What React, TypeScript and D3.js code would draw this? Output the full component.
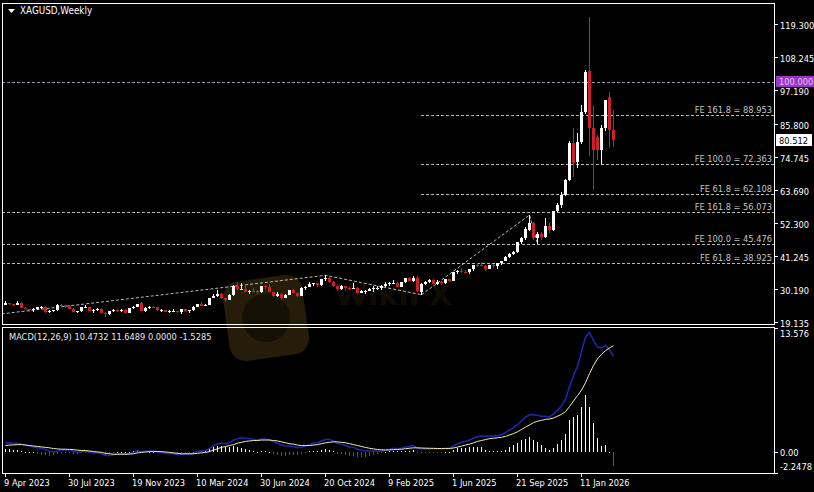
import * as d3 from "d3";

const FONT = "Tahoma, 'DejaVu Sans Condensed', 'DejaVu Sans', sans-serif";

// weekly XAGUSD candles, one entry per week starting 9 Apr 2023
const open = [
  25.0, 25.4, 25.1, 25.0, 25.6, 23.9, 23.6, 23.3, 23.6, 24.2,
  24.2, 22.7, 22.8, 23.1, 25.0, 24.9, 24.4, 23.6, 22.7, 22.75,
  24.2, 24.25, 23.0, 23.05, 23.6, 22.3, 21.7, 22.8, 23.3, 22.9,
  23.2, 22.3, 23.8, 24.3, 25.5, 23.0, 24.0, 24.2, 24.1, 23.1,
  23.2, 22.6, 22.8, 22.9, 22.4, 23.4, 22.9, 23.1, 24.1, 25.2,
  24.7, 24.9, 27.4, 28.0, 28.7, 27.2, 26.6, 28.3, 31.4, 30.3,
  30.4, 29.2, 29.6, 29.5, 29.1, 31.2, 30.8, 29.2, 28.0, 28.6,
  27.4, 28.4, 29.9, 28.9, 28.0, 30.7, 30.9, 31.8, 32.2, 31.7,
  33.7, 33.8, 32.5, 31.3, 30.3, 31.3, 30.6, 30.4, 30.6, 29.0,
  29.5, 29.6, 30.4, 30.5, 30.6, 31.3, 31.8, 32.2, 32.4, 31.1,
  32.5, 33.8, 33.1, 34.1, 29.3, 32.1, 32.5, 33.2, 32.0, 32.7,
  32.3, 33.5, 33.0, 36.0, 36.3, 36.0, 35.9, 37.0, 38.4, 38.2,
  38.1, 37.0, 38.3, 38.0, 38.9, 39.7, 41.0, 42.1, 42.6, 46.0,
  47.5, 50.2, 52.3, 47.4, 48.9, 47.6, 51.6, 50.1, 56.4, 58.4,
  61.9, 66.9, 79.3, 73.0, 79.7, 89.8, 103.6, 84.4, 81.4, 77.0,
  84.4, 95.0, 83.7,
];
const high = [
  26.1, 25.6, 25.3, 26.1, 26.0, 24.2, 23.7, 23.8, 24.2, 24.6,
  24.5, 23.2, 23.3, 25.3, 25.3, 25.0, 24.9, 23.8, 23.0, 24.3,
  25.0, 24.3, 23.4, 23.8, 23.8, 22.4, 22.8, 23.5, 23.4, 23.5,
  23.4, 23.9, 24.4, 25.3, 25.9, 24.2, 24.6, 24.6, 24.2, 23.4,
  23.3, 23.2, 23.5, 22.9, 23.5, 23.4, 23.2, 24.4, 25.3, 25.8,
  25.1, 27.4, 28.6, 29.8, 28.9, 27.3, 28.5, 31.5, 32.5, 32.3,
  31.6, 29.8, 30.6, 29.8, 31.2, 31.5, 31.8, 29.4, 29.2, 28.9,
  28.5, 30.0, 30.2, 29.0, 30.9, 31.2, 32.7, 32.3, 32.3, 33.7,
  34.87, 34.5, 32.9, 31.5, 31.5, 31.4, 31.0, 32.3, 30.9, 30.1,
  29.8, 30.7, 31.3, 31.2, 31.5, 32.6, 32.6, 33.4, 32.6, 32.7,
  34.1, 34.2, 34.6, 34.6, 32.4, 33.0, 33.7, 33.5, 33.2, 33.1,
  33.6, 33.7, 36.1, 36.5, 37.3, 36.8, 37.0, 38.5, 39.1, 39.5,
  38.4, 38.4, 38.7, 39.0, 39.8, 41.5, 42.5, 43.0, 46.0, 47.9,
  51.2, 55.17, 52.8, 49.5, 49.6, 54.2, 52.6, 56.5, 59.3, 62.9,
  67.1, 80.0, 84.4, 82.7, 92.0, 104.0, 121.8, 92.1, 82.0, 85.5,
  94.0, 96.6, 90.5,
];
const low = [
  24.9, 24.9, 24.6, 24.9, 23.9, 23.6, 22.7, 22.7, 23.3, 23.6,
  22.2, 22.1, 22.5, 22.9, 24.5, 24.0, 23.5, 22.6, 22.2, 22.7,
  24.0, 22.9, 22.3, 22.9, 22.1, 20.7, 21.4, 22.6, 22.6, 22.7,
  22.3, 22.2, 23.6, 24.2, 22.9, 22.5, 23.6, 24.0, 22.9, 22.5,
  22.5, 22.3, 22.6, 22.1, 21.9, 22.7, 22.3, 23.0, 24.1, 24.6,
  24.4, 24.8, 27.3, 27.7, 26.8, 26.0, 26.5, 28.0, 30.0, 30.0,
  29.2, 28.6, 29.1, 28.6, 28.9, 30.4, 29.2, 27.6, 27.5, 26.5,
  27.1, 28.3, 28.9, 27.7, 27.8, 30.1, 30.8, 31.2, 30.8, 31.2,
  33.0, 32.2, 30.8, 29.7, 29.9, 29.7, 29.8, 30.2, 28.7, 28.9,
  28.5, 29.5, 29.4, 29.9, 30.0, 31.1, 31.4, 32.0, 30.8, 31.1,
  32.4, 32.8, 32.7, 29.3, 28.33, 31.6, 32.3, 31.9, 31.7, 31.6,
  32.1, 32.6, 32.8, 35.3, 35.5, 35.5, 35.4, 36.2, 37.5, 38.0,
  36.2, 36.9, 37.3, 36.9, 38.3, 39.6, 40.6, 41.6, 42.4, 45.5,
  46.9, 49.9, 46.9, 45.52, 46.7, 47.4, 49.2, 49.8, 56.0, 57.4,
  61.5, 66.5, 68.0, 71.0, 79.0, 89.0, 75.0, 63.5, 73.6, 72.0,
  83.5, 77.7, 78.0,
];
const close = [
  25.4, 25.1, 25.0, 25.6, 23.9, 23.6, 23.3, 23.6, 24.2, 24.2,
  22.7, 22.8, 23.1, 25.0, 24.9, 24.4, 23.6, 22.7, 22.75, 24.2,
  24.25, 23.0, 23.05, 23.6, 22.3, 21.7, 22.8, 23.3, 22.9, 23.2,
  22.3, 23.8, 24.3, 25.2, 23.0, 24.0, 24.2, 24.1, 23.1, 23.2,
  22.6, 22.8, 22.9, 22.4, 23.4, 22.9, 23.1, 24.1, 25.2, 24.7,
  24.9, 27.4, 28.0, 28.7, 27.2, 26.6, 28.3, 31.4, 30.3, 30.4,
  29.2, 29.6, 29.5, 29.1, 31.2, 30.8, 29.2, 28.0, 28.6, 27.4,
  28.4, 29.9, 28.9, 28.0, 30.7, 30.9, 31.8, 32.2, 31.7, 33.7,
  33.8, 32.5, 31.3, 30.3, 31.3, 30.6, 30.4, 30.6, 29.0, 29.5,
  29.6, 30.4, 30.5, 30.6, 31.3, 31.8, 32.2, 32.4, 31.1, 32.5,
  33.8, 33.1, 34.1, 29.6, 32.1, 32.5, 33.2, 32.0, 32.7, 32.3,
  33.5, 33.0, 36.0, 36.3, 36.0, 35.9, 37.0, 38.4, 38.2, 38.1,
  37.0, 38.3, 38.0, 38.9, 39.7, 41.0, 42.2, 42.6, 46.0, 47.5,
  50.4, 52.3, 47.4, 48.9, 47.6, 51.5, 50.1, 56.4, 58.4, 61.9,
  66.9, 79.3, 72.6, 79.7, 89.8, 103.3, 84.4, 77.0, 77.0, 84.4,
  93.8, 83.7, 80.512,
];

// MACD(12,26,9)
const macdMain = [
  1.05, 1.05, 1.0, 1.0, 0.9, 0.8, 0.7, 0.6, 0.5, 0.45,
  0.3, 0.15, 0.05, 0.15, 0.25, 0.3, 0.25, 0.12, 0.02, 0.08,
  0.15, 0.05, -0.05, -0.05, -0.15, -0.35, -0.35, -0.25, -0.2, -0.15,
  -0.2, -0.12, 0.0, 0.2, 0.1, 0.12, 0.15, 0.15, 0.05, 0.0,
  -0.1, -0.15, -0.15, -0.25, -0.2, -0.2, -0.2, -0.1, 0.1, 0.15,
  0.2, 0.45, 0.7, 0.95, 1.0, 0.95, 1.05, 1.35, 1.5, 1.6,
  1.55, 1.5, 1.45, 1.35, 1.45, 1.45, 1.35, 1.15, 1.0, 0.8,
  0.7, 0.7, 0.65, 0.5, 0.6, 0.7, 0.85, 1.0, 1.05, 1.25,
  1.4, 1.4, 1.25, 1.0, 0.9, 0.75, 0.6, 0.55, 0.35, 0.25,
  0.15, 0.15, 0.12, 0.12, 0.15, 0.25, 0.35, 0.45, 0.4, 0.45,
  0.6, 0.65, 0.75, 0.45, 0.4, 0.38, 0.4, 0.4, 0.4, 0.4,
  0.45, 0.45, 0.7, 0.95, 1.1, 1.2, 1.35, 1.55, 1.7, 1.8,
  1.75, 1.8, 1.8, 1.85, 1.95, 2.15, 2.45, 2.7, 3.05, 3.45,
  3.85, 4.1, 4.1, 4.05, 3.95, 3.95, 3.85, 4.2, 4.6, 5.1,
  5.8, 7.2, 8.4, 9.4, 11.0, 12.6, 13.1, 12.2, 11.5, 11.4,
  11.7, 11.2, 10.4732,
];
const macdSignal = [
  0.75, 0.8, 0.82, 0.85, 0.85, 0.8, 0.75, 0.7, 0.65, 0.6,
  0.55, 0.5, 0.42, 0.38, 0.35, 0.35, 0.33, 0.3, 0.25, 0.2,
  0.2, 0.15, 0.1, 0.05, 0.0, -0.1, -0.15, -0.2, -0.2, -0.2,
  -0.2, -0.18, -0.15, -0.05, 0.0, 0.05, 0.08, 0.1, 0.1, 0.08,
  0.05, 0.0, -0.05, -0.1, -0.15, -0.15, -0.15, -0.15, -0.1, -0.05,
  0.0, 0.1, 0.25, 0.4, 0.55, 0.65, 0.75, 0.85, 1.0, 1.1,
  1.2, 1.25, 1.3, 1.3, 1.35, 1.35, 1.35, 1.3, 1.25, 1.15,
  1.05, 0.95, 0.9, 0.8, 0.75, 0.75, 0.75, 0.8, 0.85, 0.95,
  1.05, 1.1, 1.15, 1.15, 1.1, 1.05, 0.95, 0.85, 0.75, 0.65,
  0.55, 0.45, 0.38, 0.32, 0.28, 0.26, 0.27, 0.3, 0.32, 0.35,
  0.4, 0.45, 0.5, 0.5, 0.48, 0.46, 0.45, 0.44, 0.43, 0.42,
  0.42, 0.43, 0.48, 0.58, 0.68, 0.8, 0.9, 1.05, 1.2, 1.3,
  1.4, 1.5, 1.55, 1.6, 1.65, 1.75, 1.9, 2.05, 2.25, 2.5,
  2.75, 3.0, 3.25, 3.4, 3.5, 3.6, 3.65, 3.75, 3.95, 4.15,
  4.45, 5.0, 5.6, 6.2, 6.8, 7.6, 8.6, 9.5, 10.2, 10.7,
  11.1, 11.4, 11.6489,
];
const macdHist = [
  0.4, 0.35, 0.3, 0.25, 0.1, 0.03, 0.02, 0.02, -0.2, -0.25,
  -0.3, -0.35, -0.3, -0.2, -0.1, -0.1, -0.08, -0.15, -0.2, -0.1,
  -0.05, -0.1, -0.15, -0.1, -0.15, -0.25, -0.2, -0.05, 0.0, 0.02,
  0.0, 0.05, 0.15, 0.3, 0.15, 0.12, 0.08, 0.06, -0.05, -0.1,
  -0.15, -0.15, -0.1, -0.15, -0.05, -0.05, -0.05, 0.05, 0.2, 0.2,
  0.2, 0.4, 0.6, 0.75, 0.7, 0.6, 0.6, 0.7, 0.6, 0.5,
  0.35, 0.25, 0.15, 0.05, 0.1, 0.1, 0.0, -0.15, -0.25, -0.35,
  -0.35, -0.25, -0.25, -0.3, -0.15, -0.05, 0.1, 0.2, 0.2, 0.3,
  0.35, 0.3, 0.1, -0.15, -0.2, -0.3, -0.35, -0.35, -0.45, -0.45,
  -0.45, -0.35, -0.25, -0.2, -0.1, 0.0, 0.1, 0.15, 0.1, 0.1,
  0.2, 0.2, 0.25, -0.1, -0.1, -0.1, -0.05, -0.05, -0.05, -0.05,
  0.03, 0.03, 0.25, 0.45, 0.5, 0.5, 0.55, 0.6, 0.6, 0.6,
  0.3, 0.15, 0.15, 0.15, 0.2, 0.3, 0.6, 0.85, 1.0, 1.3,
  1.5, 1.7, 1.4, 1.1, 0.8, 0.5, 0.3, 0.5, 0.9, 1.3,
  2.0, 3.5, 3.9, 4.1, 5.0, 6.3, 5.0, 3.2, 1.6, 0.7,
  0.8, 0.05, -1.5285,
];

const priceTicks = [119.3, 108.245, 97.19, 85.8, 74.745, 63.69, 52.3, 41.245, 30.19, 19.135];
const macdTicks = [13.576, 0, -2.2478];
const macdTickLabels = ["13.576", "0.00", "-2.2478"];
const dateTicks = [0, 16, 32, 48, 64, 80, 96, 112, 128, 144];
const dateLabels = [
  "9 Apr 2023", "30 Jul 2023", "19 Nov 2023", "10 Mar 2024", "30 Jun 2024",
  "20 Oct 2024", "9 Feb 2025", "1 Jun 2025", "21 Sep 2025", "11 Jan 2026",
];

// Fibonacci expansions: anchors [bar index, price] and resulting levels
const feRatios = ["61.8", "100.0", "161.8"];
const fe1Levels = [38.925, 45.476, 56.073];
const fe1Points: [number, number][] = [[-27, 17.72], [80, 34.87], [104, 28.33]];
const fe2Levels = [62.108, 72.363, 88.953];
const fe2Points: [number, number][] = [[104, 28.33], [131, 55.17], [133, 45.52]];
const roundLevel = 100;
const lastPrice = 80.512;

export default function App() {
  const left = 2, right = 774, top = 3, mainBottom = 324, macdTop = 327, macdBottom = 473;

  const x = d3.scaleLinear().domain([0, 1]).range([5, 9]);
  const y = d3.scaleLinear().domain([19.135, 119.3]).range([322.1, 24.3]);
  const ym = d3.scaleLinear().domain([-2.2478, 13.576]).range([macdBottom, 328]);

  const red = "#d01e2a";
  const dash = "#b8b8b8";
  const fs = 9.2;

  const lineMain = d3.line<number>().x((_, i) => x(i) + 0.5).y((d) => ym(d));

  const fePath = (pts: [number, number][]) =>
    d3.line<[number, number]>().x((d) => x(d[0]) + 0.5).y((d) => y(d[1]))(pts) ?? "";

  return (
    <svg width={814} height={492} style={{ position: "absolute", left: 0, top: 0, display: "block", background: "#000" }}
      fontFamily={FONT}>
      <rect x={0} y={0} width={814} height={492} fill="#000" />
      <defs>
        <clipPath id="mainClip">
          <rect x={left + 1} y={top + 1} width={right - left - 1} height={mainBottom - top - 1} />
        </clipPath>
        <clipPath id="macdClip">
          <rect x={left + 1} y={macdTop + 1} width={right - left - 1} height={macdBottom - macdTop - 1} />
        </clipPath>
      </defs>

      {/* watermark */}
      <g opacity={0.17} fill="#d9aa3a">
        <rect x={226} y={278} width={80} height={80} rx={16} transform="rotate(-8 266 318)" />
      </g>
      <circle cx={266} cy={318} r={24} fill="#000" opacity={0.4} />
      <text x={335} y={305} fontSize={30} fontWeight="bold" fontFamily="'DejaVu Sans', sans-serif"
        fill="#d9aa3a" opacity={0.07}>WikiFX</text>

      <g clipPath="url(#mainClip)" shapeRendering="crispEdges">
        {/* horizontal level lines */}
        <line x1={left} x2={right} y1={Math.round(y(roundLevel)) + 0.5} y2={Math.round(y(roundLevel)) + 0.5}
          stroke="#9a92a4" strokeDasharray="3,2" />
        {fe1Levels.map((v) => (
          <line key={"a" + v} x1={left} x2={right} y1={Math.round(y(v)) + 0.5} y2={Math.round(y(v)) + 0.5}
            stroke={dash} strokeDasharray="3,2" />
        ))}
        {fe2Levels.map((v) => (
          <line key={"b" + v} x1={x(fe2Points[0][0])} x2={right} y1={Math.round(y(v)) + 0.5} y2={Math.round(y(v)) + 0.5}
            stroke={dash} strokeDasharray="3,2" />
        ))}
      </g>
      <g clipPath="url(#mainClip)">
        <path d={fePath(fe1Points)} fill="none" stroke={dash} strokeDasharray="3,2" />
        <path d={fePath(fe2Points)} fill="none" stroke={dash} strokeDasharray="3,2" />
      </g>

      {/* level labels */}
      <g fontSize={fs} fill="#c4c4c4" textAnchor="end">
        {fe1Levels.map((v, k) => (
          <text key={"ta" + k} x={right - 2} y={Math.round(y(v)) - 2}>{`FE ${feRatios[k]} = ${v.toFixed(3)}`}</text>
        ))}
        {fe2Levels.map((v, k) => (
          <text key={"tb" + k} x={right - 2} y={Math.round(y(v)) - 2}>{`FE ${feRatios[k]} = ${v.toFixed(3)}`}</text>
        ))}
      </g>

      {/* candles */}
      <g clipPath="url(#mainClip)" shapeRendering="crispEdges">
        {close.map((c, i) => {
          const o = open[i];
          const col = c >= o ? "#ffffff" : red;
          const cx = x(i);
          const yTop = Math.round(y(Math.max(o, c)));
          const yBot = Math.round(y(Math.min(o, c)));
          const yh = Math.round(y(high[i]));
          const yl = Math.round(y(low[i]));
          return (
            <g key={i} fill={col}>
              <rect x={cx} y={yh} width={1} height={Math.max(1, yl - yh)} />
              <rect x={cx - 1} y={yTop} width={3} height={Math.max(1, yBot - yTop)} />
            </g>
          );
        })}
      </g>

      {/* MACD */}
      <g clipPath="url(#macdClip)">
        <g shapeRendering="crispEdges">
          {macdHist.map((v, i) => {
            const y0 = Math.round(ym(0));
            const y1 = Math.round(ym(v));
            return (
              <rect key={i} x={x(i)} y={Math.min(y0, y1)} width={1} height={Math.max(1, Math.abs(y1 - y0))}
                fill={v >= 0 ? "#ffffff" : red} />
            );
          })}
        </g>
        <path d={lineMain(macdMain) ?? ""} fill="none" stroke="#2424b4" strokeWidth={1.5} />
        <path d={lineMain(macdSignal) ?? ""} fill="none" stroke="#f2eea8" strokeWidth={1} />
      </g>

      {/* frames */}
      <g fill="none" stroke="#ffffff" shapeRendering="crispEdges">
        <rect x={left + 0.5} y={top + 0.5} width={right - left} height={mainBottom - top} />
        <rect x={left + 0.5} y={macdTop + 0.5} width={right - left} height={macdBottom - macdTop} />
      </g>

      {/* price axis */}
      <g fontSize={fs} fill="#ffffff" shapeRendering="crispEdges">
        {priceTicks.map((v) => (
          <g key={v}>
            <line x1={right} x2={right + 4} y1={Math.round(y(v)) + 0.5} y2={Math.round(y(v)) + 0.5} stroke="#fff" />
            <text x={right + 6} y={y(v) + 5}>{v.toFixed(3)}</text>
          </g>
        ))}
        {macdTicks.map((v, k) => {
          const yy = ym(v);
          const ty = Math.min(Math.max(yy + 3.5, macdTop + 10), macdBottom - 3);
          return (
            <g key={"m" + k}>
              <line x1={right} x2={right + 4} y1={Math.round(yy) + 0.5} y2={Math.round(yy) + 0.5} stroke="#fff" />
              <text x={right + 6} y={ty}>{macdTickLabels[k]}</text>
            </g>
          );
        })}
      </g>

      {/* price badges */}
      <rect x={right + 2} y={Math.round(y(roundLevel)) - 6} width={39} height={11} fill="#9b34cc" />
      <text x={right + 5} y={Math.round(y(roundLevel)) + 3} fontSize={fs} fill="#e2c8f4">{roundLevel.toFixed(3)}</text>
      <rect x={right + 2} y={Math.round(y(lastPrice)) - 6} width={36} height={12} fill="#ffffff" />
      <text x={right + 5} y={Math.round(y(lastPrice)) + 3.5} fontSize={fs} fill="#000">{lastPrice.toFixed(3)}</text>

      {/* time axis */}
      <g fontSize={fs} fill="#ffffff" shapeRendering="crispEdges">
        {dateTicks.map((d, k) => (
          <g key={d}>
            <line x1={x(d) + 0.5} x2={x(d) + 0.5} y1={macdBottom} y2={macdBottom + 4} stroke="#fff" />
            <text x={x(d) - 1} y={486}>{dateLabels[k]}</text>
          </g>
        ))}
      </g>

      {/* titles */}
      <path d="M8,9 L15,9 L11.5,13 Z" fill="#fff" />
      <text x={20} y={14} fontSize={9.8} fill="#fff">XAGUSD,Weekly</text>
      <text x={9} y={340} fontSize={fs} fill="#e8e8e8">MACD(12,26,9) 10.4732 11.6489 0.0000 -1.5285</text>
    </svg>
  );
}
